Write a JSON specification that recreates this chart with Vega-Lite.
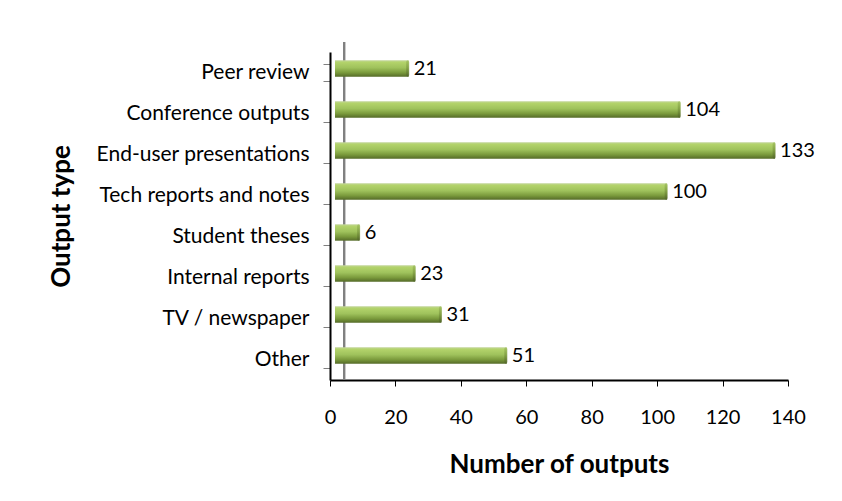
{
  "$schema": "https://vega.github.io/schema/vega-lite/v6.json",
  "autosize": "none",
  "width": 458,
  "height": 328,
  "padding": {"left": 330, "top": 52, "right": 54, "bottom": 121},
  "background": "white",
  "config": {"view": {"stroke": null}, "font": "Lato"},
  "data": {"values": [
    {"type": "Peer review", "n": 21},
    {"type": "Conference outputs", "n": 104},
    {"type": "End-user presentations", "n": 133},
    {"type": "Tech reports and  notes", "n": 100},
    {"type": "Student theses", "n": 6},
    {"type": "Internal reports", "n": 23},
    {"type": "TV / newspaper", "n": 31},
    {"type": "Other", "n": 51}
  ]},
  "encoding": {
    "y": {"field": "type", "type": "nominal", "sort": null,
      "scale": {"paddingInner": 0.6, "paddingOuter": 0.3},
      "axis": {"title": "Output type", "titleFont": "Lato", "titleFontSize": 26, "titleFontWeight": "bold", "titleColor": "black", "titlePadding": 56,
        "labelFont": "Lato", "labelFontSize": 21, "labelColor": "black", "labelPadding": 14, "labelLimit": 400,
        "domainColor": "black", "domainWidth": 2, "tickColor": "#808080", "tickSize": 7, "tickBand": "extent", "grid": false}},
    "x": {"field": "n", "type": "quantitative", "stack": null,
      "scale": {"domain": [0, 140], "nice": false},
      "axis": {"title": "Number of outputs", "values": [0, 20, 40, 60, 80, 100, 120, 140],
        "titleFont": "Lato", "titleFontSize": 26, "titleFontWeight": "bold", "titleColor": "black", "titlePadding": 24,
        "labelFont": "Lato", "labelFontSize": 20, "labelColor": "black", "labelPadding": 21, "labelFlush": false, "labelOverlap": false,
        "domainColor": "black", "domainWidth": 2, "tickColor": "black", "tickSize": 6, "grid": false}}
  },
  "layer": [
    {"mark": {"type": "rule", "color": "#808080", "strokeWidth": 2, "yOffset": -10, "y2Offset": -10}, "encoding": {"x": {"datum": 4.3}, "y": null}},
    {"mark": {"type": "bar", "xOffset": 10, "x2Offset": 5, "yOffset": -4, "y2Offset": -4,
      "color": {"gradient": "linear", "x1": 0, "y1": 0, "x2": 0, "y2": 1,
        "stops": [
          {"offset": 0, "color": "#c3d69b"},
          {"offset": 0.12, "color": "#b3d36b"},
          {"offset": 0.45, "color": "#9fc25c"},
          {"offset": 0.75, "color": "#7a9a3c"},
          {"offset": 1, "color": "#556b28"}
        ]}},
      "encoding": {"x2": {"datum": 0}}},
    {"mark": {"type": "tick", "orient": "vertical", "thickness": 3, "size": 16, "xOffset": 9, "yOffset": -4, "cornerRadius": 2,
      "color": {"gradient": "linear", "x1": 0, "y1": 0, "x2": 0, "y2": 1,
        "stops": [
          {"offset": 0, "color": "#9bbb59"},
          {"offset": 0.5, "color": "#77933c"},
          {"offset": 1, "color": "#4f6228"}
        ]}}},
    {"mark": {"type": "text", "align": "left", "baseline": "middle", "dx": 15, "dy": -4, "fontSize": 20, "font": "Lato", "color": "black"},
      "encoding": {"text": {"field": "n", "type": "quantitative"}}}
  ]
}
